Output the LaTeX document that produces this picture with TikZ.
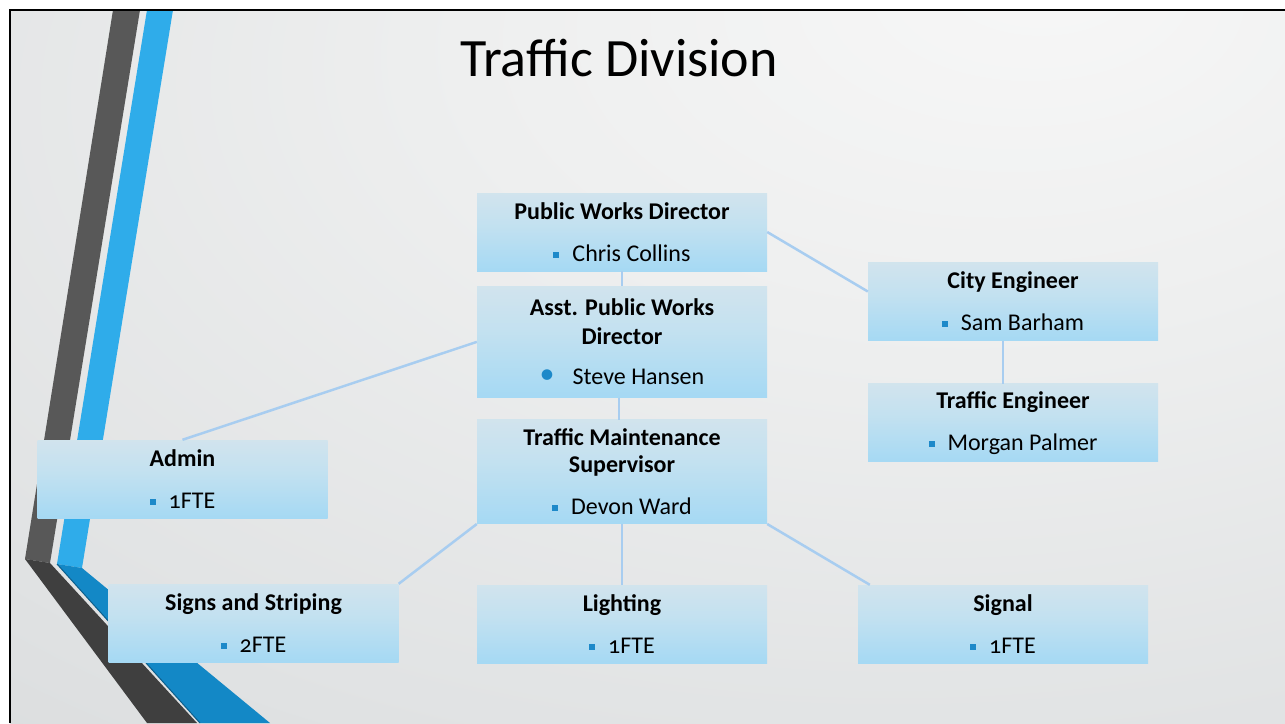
\documentclass[tikz,border=0pt]{standalone}
\usepackage{fontspec}
\setmainfont[Numbers=OldStyle]{Carlito}
\usetikzlibrary{positioning}

\definecolor{linkblue}{HTML}{A8CDF0}
\definecolor{bulletblue}{HTML}{1D89C9}
\definecolor{boxtop}{HTML}{E3E7EA}
\definecolor{boxmid}{HTML}{C3E1F0}
\definecolor{boxblue}{HTML}{A2D8F4}
\definecolor{boxlow}{HTML}{CBEBF9}
\definecolor{bgA}{HTML}{F7F7F7}
\definecolor{bgB}{HTML}{EEEFEF}
\definecolor{bgC}{HTML}{E0E2E3}
\definecolor{bgD}{HTML}{CDD0D1}
\definecolor{bgE}{HTML}{BCC0C1}
\definecolor{stripedark}{HTML}{585858}
\definecolor{stripedarker}{HTML}{3F3F3F}
\definecolor{stripeblue}{HTML}{2FACEA}
\definecolor{stripebluedk}{HTML}{1388C6}
\definecolor{stripeedge}{HTML}{0D5F8C}

\pgfdeclareverticalshading{boxshade}{100bp}{color(0bp)=(boxlow); color(5bp)=(boxlow); color(22bp)=(boxblue); color(55bp)=(boxmid); color(100bp)=(boxtop)}
\pgfdeclareradialshading{bgshade}{\pgfpoint{16bp}{28bp}}{color(0bp)=(bgA); color(20bp)=(bgB); color(45bp)=(bgC); color(75bp)=(bgD); color(102bp)=(bgE)}

\newcommand{\sqb}{\textcolor{bulletblue}{\rule[3.5pt]{6pt}{6pt}}\hspace{13pt}}
\newcommand{\rdb}{\textcolor{bulletblue}{\raisebox{1pt}{\fontsize{30}{27}\selectfont•}}\hspace{18pt}}

\begin{document}
\begin{tikzpicture}[x=1pt,y=-1pt,
	orgbox/.style={shade,shading=boxshade,minimum width=290pt,minimum height=78pt,inner sep=0pt,align=center,font=\fontsize{24}{27}\selectfont},
	link/.style={draw=linkblue,line width=2.5pt}]
	\useasboundingbox (0,0) rectangle (1285,723);
	\fill[white] (0,0) rectangle (1285,723);
	\shade[shading=bgshade] (10,10) rectangle (1285,723);
	% left stripes
	\fill[stripedark] (113,10)--(140,10)--(50,563)--(25,559)--cycle;
	\fill[stripedarker] (25,559)--(50,563)--(197,723)--(147,723)--cycle;
	\fill[stripeblue] (147,10)--(173,10)--(82,568)--(57,564)--cycle;
	\fill[stripebluedk] (57,564)--(82,568)--(270,723)--(200,723)--cycle;
	\draw[stripeedge,line width=1pt] (57,564)--(200,723);
	\draw[line width=2pt] (10,723)--(10,10)--(1285,10);
	% title
	\node[anchor=base,font=\fontsize{54}{60}\selectfont] (title) at (619,76) {Traffic Division};
	% boxes
	\node[orgbox] (pwd) at (622,232) {\textbf{Public Works Director}\\[15pt]\sqb Chris Collins};
	\node[orgbox,minimum height=111pt,below=15pt of pwd] (apwd) {\textbf{Asst. Public Works}\\[2pt]\textbf{Director}\\[13pt]\rdb Steve Hansen};
	\node[orgbox,minimum height=104pt,below=22pt of apwd] (tms) {\textbf{Traffic Maintenance}\\\textbf{Supervisor}\\[15pt]\sqb Devon Ward};
	\node[orgbox] (city) at (1013,301.5) {\textbf{City Engineer}\\[15pt]\sqb Sam Barham};
	\node[orgbox,below=43pt of city] (teng) {\textbf{Traffic Engineer}\\[15pt]\sqb Morgan Palmer};
	\node[orgbox] (admin) at (182.5,479) {\textbf{Admin}\\[15pt]\sqb 1FTE};
	\node[orgbox] (signs) at (253.5,623) {\textbf{Signs and Striping}\\[15pt]\sqb 2FTE};
	\node[orgbox,below=61pt of tms] (light) {\textbf{Lighting}\\[15pt]\sqb 1FTE};
	\node[orgbox] (signal) at (1003,624) {\textbf{Signal}\\[15pt]\sqb 1FTE};
	% connectors
	\draw[link] (pwd.south)--(apwd.north);
	\draw[link] (pwd.east)--([yshift=10pt]city.west);
	\draw[link] ([xshift=-10pt]city.south)--([xshift=-10pt]teng.north);
	\draw[link] (apwd.west)--(admin.north);
	\draw[link] ([xshift=-3pt]apwd.south)--([xshift=-3pt]tms.north);
	\draw[link] (tms.south west)--(signs.north east);
	\draw[link] (tms.south)--(light.north);
	\draw[link] (tms.south east)--([xshift=12pt]signal.north west);
\end{tikzpicture}
\end{document}
